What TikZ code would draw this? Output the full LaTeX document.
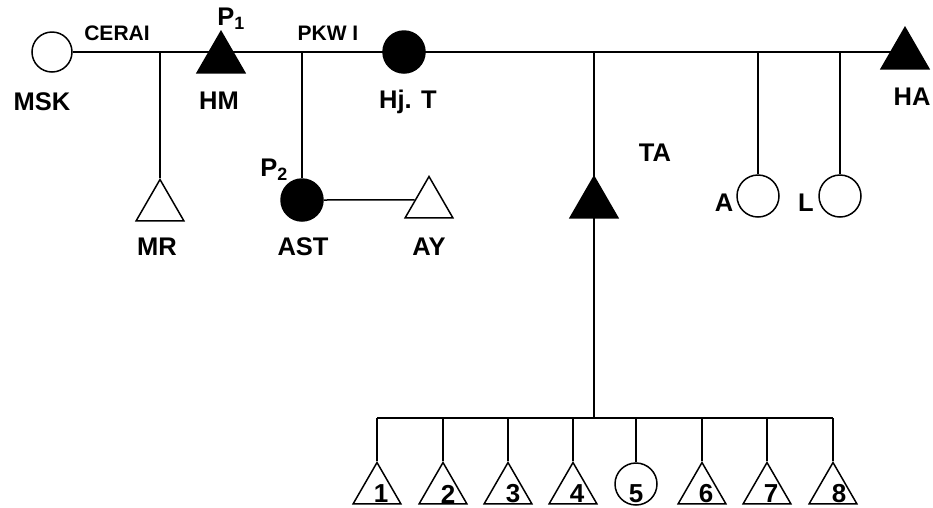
\documentclass[tikz,border=0pt]{standalone}
\usepackage{fontspec}
\setmainfont{Liberation Sans}
\usetikzlibrary{shapes.geometric,calc}
\pgfdeclarelayer{bg}
\pgfsetlayers{bg,main}
\begin{document}
\begin{tikzpicture}[x=1pt,y=-1pt, line width=1.5pt,
  tri/.style={regular polygon, regular polygon sides=3, minimum size=55pt, inner sep=0pt, draw, line width=1.5pt},
  otri/.style={tri, fill=white},
  ftri/.style={tri, fill=black},
  circ/.style={circle, minimum size=42pt, inner sep=0pt, draw, line width=1.5pt},
  ocirc/.style={circ, fill=white},
  fcirc/.style={circ, fill=black},
  lab/.style={font=\bfseries\fontsize{25.5}{25.5}\selectfont, inner sep=0pt},
  slab/.style={font=\bfseries\fontsize{21}{21}\selectfont, inner sep=0pt},
  num/.style={font=\bfseries\fontsize{26}{26}\selectfont, inner sep=0pt},
  link/.style={line width=1.5pt}]
\useasboundingbox (0,0) rectangle (933,507);
\coordinate (top) at (0,52);
\coordinate (bar) at (595,418);
% persons
\node[ocirc, minimum size=40pt] (MSK) at (52,52) {};
\node[ftri] (HM) at (221,59) {};
\node[fcirc] (HjT) at (404,52) {};
\node[ftri] (HA) at (905,55) {};
\node[otri] (MR) at (160,207) {};
\node[fcirc] (AST) at (302,200) {};
\node[otri] (AY) at (429,204) {};
\node[ftri] (TA) at (594,204) {};
\node[ocirc] (A) at (758,196) {};
\node[ocirc] (L) at (840,196) {};
% children
\node[otri] (c1) at (377,490) {};
\node[otri] (c2) at (443,490) {};
\node[otri] (c3) at (508,490) {};
\node[otri] (c4) at (573,490) {};
\node[ocirc] (c5) at (636,484) {};
\node[otri] (c6) at (702,490) {};
\node[otri] (c7) at (767,490) {};
\node[otri] (c8) at (833,490) {};
% numbers
\node[num] (n1) at (381,494) {1};
\node[num] (n2) at (448,494) {2};
\node[num] (n3) at (513,494) {3};
\node[num] (n4) at (577,494) {4};
\node[num] (n5) at (636,494) {5};
\node[num] (n6) at (706,494) {6};
\node[num] (n7) at (771,494) {7};
\node[num] (n8) at (839,494) {8};
% labels
\node[lab] (lMSK) at (42,102) {MSK};
\node[lab] (lHM) at (219,101) {HM};
\node[lab] (lHjT) at (408,102) {Hj. T};
\node[lab] (lHA) at (912,97) {HA};
\node[lab] (lMR) at (157,247) {MR};
\node[lab] (lAST) at (303,247) {AST};
\node[lab] (lAY) at (429,247) {AY};
\node[lab] (lTA) at (655,153) {TA};
\node[lab] (lA) at (724,203) {A};
\node[lab] (lL) at (806,203) {L};
\node[lab] (lP1) at (231,19) {P\textsubscript{1}};
\node[lab] (lP2) at (274,170) {P\textsubscript{2}};
\node[slab] (lCERAI) at (117,33) {CERAI};
\node[slab] (lPKW) at (328,33) {PKW I};
% connectors
\begin{pgfonlayer}{bg}
\draw[link] (MSK.east) -- (HA.center |- top);
\draw[link] (TA.center |- top) -- (TA.center |- bar);
\end{pgfonlayer}
\draw[link] (MR.north |- top) -- (MR.north);
\draw[link] (AST.north |- top) -- (AST.north);
\draw[link] (AST.east) -- ($(AY.corner 1)!0.57!(AY.corner 2)$);
\draw[link] (A.north |- top) -- (A.north);
\draw[link] (L.north |- top) -- (L.north);
\draw[link] (c1.north |- bar) -- (c8.north |- bar);
\foreach \i in {1,...,8} {\draw[link] (c\i.north |- bar) -- (c\i.north);}
\end{tikzpicture}
\end{document}
